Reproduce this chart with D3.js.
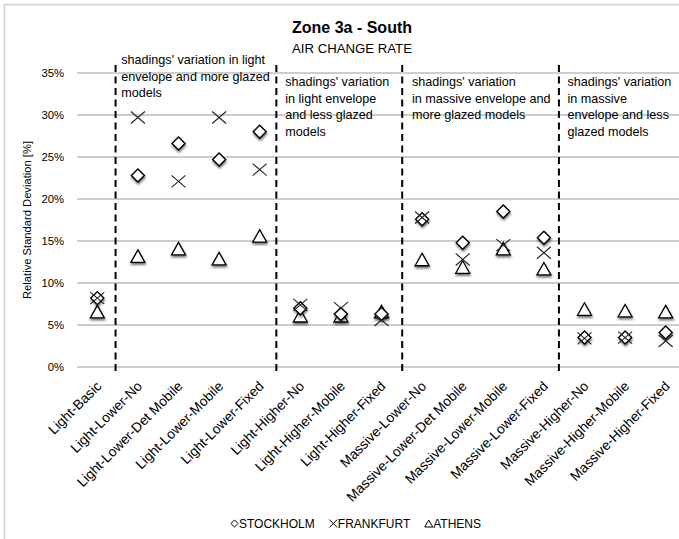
<!DOCTYPE html>
<html><head><meta charset="utf-8">
<script src="https://cdn.jsdelivr.net/npm/d3@7"></script>
<style>
body{margin:0;background:#fff}
svg{display:block;-webkit-font-smoothing:antialiased}
text{font-family:"Liberation Sans",Arial,sans-serif;fill:#000}
</style>
</head><body>
<svg id="chart" width="679" height="539"></svg>
<script>
// ---------------- data ----------------
const categories = ["Light-Basic","Light-Lower-No","Light-Lower-Det Mobile","Light-Lower-Mobile","Light-Lower-Fixed",
  "Light-Higher-No","Light-Higher-Mobile","Light-Higher-Fixed",
  "Massive-Lower-No","Massive-Lower-Det Mobile","Massive-Lower-Mobile","Massive-Lower-Fixed",
  "Massive-Higher-No","Massive-Higher-Mobile","Massive-Higher-Fixed"];
const stockholm = [8.2,22.8,26.6,24.7,28.0,7.0,6.3,6.3,17.6,14.8,18.5,15.4,3.5,3.5,4.1];
const frankfurt = [8.2,29.7,22.1,29.7,23.5,7.4,7.0,5.6,17.8,12.8,14.5,13.6,3.4,3.5,3.1];
const athens    = [6.6,13.2,14.1,12.9,15.6,6.1,6.1,6.6,12.8,11.9,14.1,11.7,6.9,6.7,6.6];
const seriesNames = ["STOCKHOLM","FRANKFURT","ATHENS"];
const yTicks = [0,5,10,15,20,25,30,35];
const dividerIndex = [0.45,4.41,7.51,11.37];
const noteIndex = [0.59,4.63,7.75,11.58];
const noteLines = [
  ["shadings' variation in light","envelope and more glazed","models"],
  ["shadings' variation","in light envelope","and less glazed","models"],
  ["shadings' variation","in massive envelope and","more glazed models"],
  ["shadings' variation","in massive","envelope and less","glazed models"]
];
const titleText = "Zone 3a - South";
const subtitleText = "AIR CHANGE RATE";
const yTitle = "Relative Standard Deviation [%]";

// ---------------- layout ----------------
const svg = d3.select("#chart");
const plot = {left:77, right:686, top:73, bottom:367};

const defs = svg.append("defs");
const f = defs.append("filter").attr("id","sh").attr("x","-50%").attr("y","-50%").attr("width","200%").attr("height","200%");
f.append("feDropShadow").attr("dx",0.5).attr("dy",2).attr("stdDeviation",1.1)
  .attr("flood-color","#000").attr("flood-opacity",0.55);

// outer border
svg.append("rect").attr("x",4.5).attr("y",4.5).attr("width",720).attr("height",620)
  .attr("fill","#fff").attr("stroke","#d0d0d0").attr("stroke-width",1.5);

const x = d3.scaleBand().domain(categories).range([plot.left, plot.right]);
const xc = c => x(c) + x.bandwidth()/2;
const xi = d3.scaleLinear().domain([0, categories.length-1])
  .range([xc(categories[0]), xc(categories[categories.length-1])]);
const y = d3.scaleLinear().domain([0,35]).range([plot.bottom, plot.top]);

// gridlines
svg.append("g").selectAll("line").data(yTicks).join("line")
  .attr("x1",plot.left).attr("x2",plot.right)
  .attr("y1",d=>y(d)).attr("y2",d=>y(d))
  .attr("stroke","#bcbcbc").attr("stroke-width",1.3);

// y tick labels
svg.append("g").selectAll("text").data(yTicks).join("text")
  .attr("x",64).attr("y",d=>y(d)+4)
  .attr("text-anchor","end").attr("font-size",11.3).attr("fill","#000")
  .text(d=>d+"%");

// y title
svg.append("text").attr("transform",`translate(31,${(plot.top+plot.bottom)/2}) rotate(-90)`)
  .attr("text-anchor","middle").attr("font-size",11.2).attr("fill","#000").text(yTitle);

// dividers
svg.append("g").selectAll("line").data(dividerIndex).join("line")
  .attr("x1",d=>xi(d)).attr("x2",d=>xi(d))
  .attr("y1",y(35)-8).attr("y2",y(0)+7)
  .attr("stroke","#000").attr("stroke-width",2).attr("stroke-dasharray","7,4.5");

// notes
noteLines.forEach((lines,i)=>{
  const t = svg.append("text").attr("font-size",12.6).attr("fill","#000")
    .attr("x",xi(noteIndex[i])).attr("y", i===0 ? 64 : 86);
  lines.forEach((l,j)=>{
    t.append("tspan").attr("x",xi(noteIndex[i])).attr("dy", j===0?0:16.7).text(l);
  });
});

// x labels
svg.append("g").selectAll("text").data(categories).join("text")
  .attr("transform",d=>`translate(${xc(d)+5},${plot.bottom+20}) rotate(-45)`)
  .attr("text-anchor","end").attr("font-size",13.8).attr("fill","#000")
  .style("fill","#000").text(d=>d);

// markers
const diamond = (s)=>`M0,${-s}L${s},0L0,${s}L${-s},0Z`;
const triangle = (w,h)=>`M0,${-h/2}L${w/2},${h/2}L${-w/2},${h/2}Z`;

const gA = svg.append("g");
gA.selectAll("path").data(athens).join("path")
  .attr("d",triangle(14,12.5))
  .attr("transform",(d,i)=>`translate(${xc(categories[i])},${y(d)})`)
  .attr("fill","#fff").attr("stroke","#000").attr("stroke-width",1.3).attr("filter","url(#sh)");

const gS = svg.append("g");
gS.selectAll("path").data(stockholm).join("path")
  .attr("d",diamond(6.5))
  .attr("transform",(d,i)=>`translate(${xc(categories[i])},${y(d)})`)
  .attr("fill","#fff").attr("stroke","#000").attr("stroke-width",1.4).attr("filter","url(#sh)");

const gF = svg.append("g");
gF.selectAll("path").data(frankfurt).join("path")
  .attr("d","M-7,-6L7,6M-7,6L7,-6")
  .attr("transform",(d,i)=>`translate(${xc(categories[i])},${y(d)})`)
  .attr("fill","none").attr("stroke","#222").attr("stroke-width",1.1);

// legend
const leg = svg.append("g");
const legY = 523.5;
let lx = 231;
const shapes = [
  g=>g.append("path").attr("d",diamond(3.6)).attr("fill","#fff").attr("stroke","#000").attr("stroke-width",1),
  g=>g.append("path").attr("d","M-4,-4L4,4M-4,4L4,-4").attr("stroke","#000").attr("stroke-width",1),
  g=>g.append("path").attr("d",triangle(8,7)).attr("fill","#fff").attr("stroke","#000").attr("stroke-width",1)
];
seriesNames.forEach((n,i)=>{
  const g = leg.append("g").attr("transform",`translate(${lx+3.5},${legY})`);
  shapes[i](g);
  const t = leg.append("text").attr("x",lx+8).attr("y",legY+4.3).attr("font-size",12).attr("fill","#000").text(n);
  lx += 8 + t.node().getComputedTextLength() + 15;
});

// titles
const cx = 352;
svg.append("text").attr("x",cx).attr("y",32.5).attr("text-anchor","middle")
  .attr("font-size",16).attr("font-weight","bold").attr("fill","#000").text(titleText);
svg.append("text").attr("x",cx).attr("y",52.7).attr("text-anchor","middle")
  .attr("font-size",13.2).attr("fill","#000").text(subtitleText);
</script>
</body></html>
